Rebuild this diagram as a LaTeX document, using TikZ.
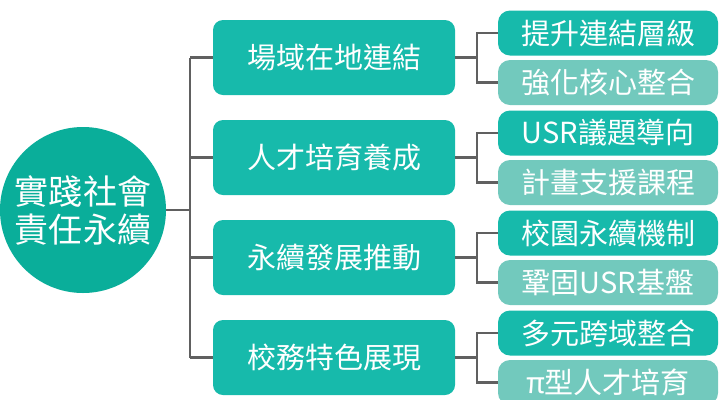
\documentclass[tikz,border=0pt]{standalone}
\usepackage{fontspec}
\setmainfont{Noto Sans CJK TC}
\usetikzlibrary{positioning}
\definecolor{rootteal}{HTML}{0AAE9A}
\definecolor{midteal}{HTML}{17BAAB}
\definecolor{lightteal}{HTML}{72C9BD}
\definecolor{linkgray}{HTML}{606060}
\tikzset{
  root/.style={circle,fill=rootteal,text=white,minimum size=166bp,inner sep=0pt,align=center,font=\fontsize{34bp}{38bp}\selectfont},
  midbox/.style={rounded corners=10bp,fill=midteal,text=white,minimum width=242bp,minimum height=75bp,inner sep=0pt,font=\fontsize{29bp}{34bp}\selectfont},
  topbox/.style={rounded corners=12bp,fill=midteal,text=white,minimum width=220bp,minimum height=45bp,inner sep=0pt,font=\fontsize{29bp}{34bp}\selectfont},
  lowbox/.style={topbox,fill=lightteal},
  link/.style={draw=linkgray,line width=2.5bp}
}
\begin{document}
\begin{tikzpicture}[x=1bp,y=-1bp]
    \useasboundingbox (0,0) rectangle (720,399);
    \node[root] (root) at (83,210) {實踐社會\\責任永續};
    \coordinate (trunk) at (190,210);
    \foreach \i/\m/\a/\b in {1/場域在地連結/提升連結層級/強化核心整合,
        2/人才培育養成/USR議題導向/計畫支援課程,
        3/永續發展推動/校園永續機制/鞏固USR基盤,
        4/校務特色展現/多元跨域整合/π型人才培育}{
      \node[midbox] (m\i) at (334,{57.5+100*(\i-1)}) {\m};
      \node[topbox] (a\i) at (608,{33+100*(\i-1)}) {\a};
      \node[lowbox] (b\i) at (608,{82.5+100*(\i-1)}) {\b};
      \coordinate (j\i) at ([xshift=22bp]m\i.east);
      \draw[link] (trunk |- m\i) -- (m\i.west);
      \draw[link] (m\i.east) -- (j\i);
      \draw[link] (a\i.west) -| (j\i) |- (b\i.west);
    }
    \draw[link] (root.east) -- (trunk);
    \draw[link] (trunk |- m1) -- (trunk |- m4);
\end{tikzpicture}
\end{document}
